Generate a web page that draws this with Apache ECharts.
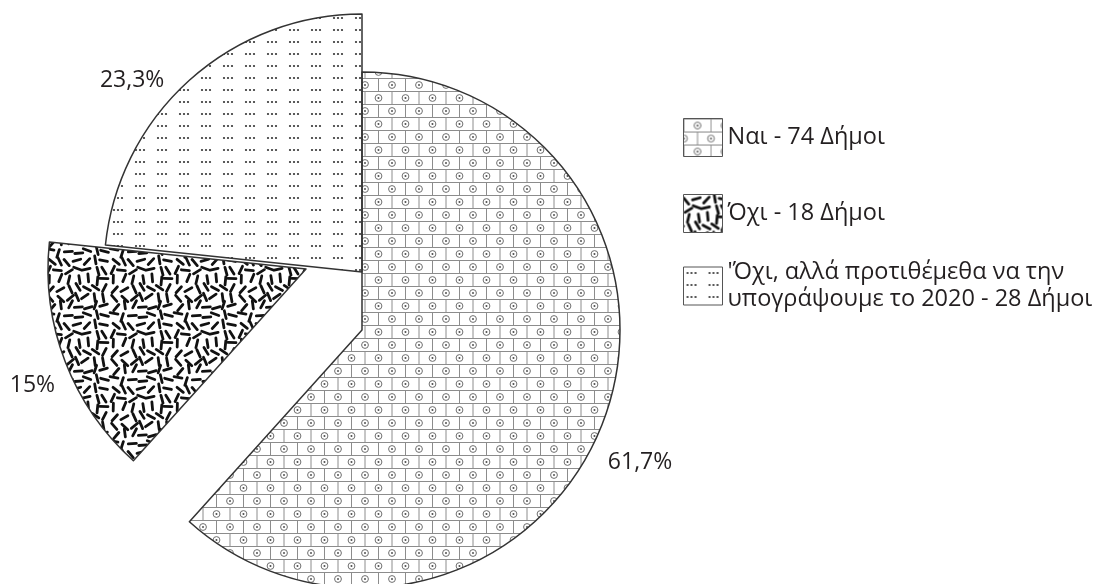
<!DOCTYPE html>
<html>
<head>
<meta charset="utf-8">
<title>Δήμοι</title>
<script src="https://cdn.jsdelivr.net/npm/echarts@6/dist/echarts.min.js"></script>
<style>
  html, body { margin: 0; padding: 0; background: #fff; }
  #chart { width: 1096px; height: 584px; }
</style>
</head>
<body>
<div id="chart"></div>
<script>
  // answers and number of municipalities
  const categories = ['Ναι', 'Όχι', "'Όχι, αλλά προτιθέμεθα να την\nυπογράψουμε το 2020"]
  const municipalities = [74, 18, 28]

  const textColor = '#231f20'
  const fontFamily = 'Open Sans'

  function makeTile(w, h, draw) {
    const c = document.createElement('canvas')
    c.width = w
    c.height = h
    const ctx = c.getContext('2d')
    draw(ctx, w, h)
    return c
  }

  // grid of bricks with a small circled dot
  const brickTile = makeTile(27, 26, function(ctx, w, h) {
    ctx.strokeStyle = '#8c8c8c'
    ctx.lineWidth = 1
    ctx.beginPath()
    ctx.moveTo(0, 0.5); ctx.lineTo(w, 0.5)
    ctx.moveTo(0, 13.5); ctx.lineTo(w, 13.5)
    ctx.moveTo(0.5, 0); ctx.lineTo(0.5, 13)
    ctx.moveTo(14, 13); ctx.lineTo(14, h)
    ctx.stroke()
    const dots = [[14, 7], [0.5, 20], [27.5, 20]]
    ctx.strokeStyle = '#6e6e6e'
    ctx.fillStyle = '#555'
    dots.forEach(function(d) {
      ctx.beginPath()
      ctx.arc(d[0], d[1], 3.4, 0, Math.PI * 2)
      ctx.stroke()
      ctx.beginPath()
      ctx.arc(d[0], d[1], 1, 0, Math.PI * 2)
      ctx.fill()
    })
  })

  // short black dashes scattered in all directions
  const dashTile = makeTile(64, 64, function(ctx, w, h) {
    let seed = 4242
    const rnd = function() {
      seed = (seed * 16807) % 2147483647
      return seed / 2147483647
    }
    ctx.strokeStyle = '#111'
    ctx.lineWidth = 2.8
    ctx.lineCap = 'round'
    const n = 7
    const step = w / n
    for (let i = 0; i < n; i++) {
      for (let j = 0; j < n; j++) {
        const x = i * step + step / 2 + (rnd() - 0.5) * step * 0.45
        const y = j * step + step / 2 + (rnd() - 0.5) * step * 0.45
        const a = rnd() * Math.PI
        const dx = Math.cos(a) * 4
        const dy = Math.sin(a) * 4
        for (let ox = -w; ox <= w; ox += w) {
          for (let oy = -h; oy <= h; oy += h) {
            ctx.beginPath()
            ctx.moveTo(x - dx + ox, y - dy + oy)
            ctx.lineTo(x + dx + ox, y + dy + oy)
            ctx.stroke()
          }
        }
      }
    }
  })

  // rows of little three-dot groups
  const dotTile = makeTile(22, 12, function(ctx) {
    ctx.fillStyle = '#333'
    ;[4, 8, 12].forEach(function(x) {
      ctx.beginPath()
      ctx.arc(x, 6, 1.1, 0, Math.PI * 2)
      ctx.fill()
    })
  })

  const fills = [
    { image: brickTile, repeat: 'repeat' },
    { image: dashTile, repeat: 'repeat' },
    { image: dotTile, repeat: 'repeat' }
  ]

  const hiddenStyle = { color: 'rgba(0,0,0,0)', borderWidth: 0 }

  // one pie per slice so each slice can sit on its own centre
  function slicePie(index, center, shift) {
    return {
      type: 'pie',
      radius: 258,
      center: center,
      startAngle: 90,
      clockwise: true,
      avoidLabelOverlap: false,
      percentPrecision: 1,
      silent: true,
      labelLayout: shift,
      data: categories.map(function(name, i) {
        if (i !== index) {
          return { name: name, value: municipalities[i], itemStyle: hiddenStyle, label: { show: false }, labelLine: { show: false } }
        }
        return {
          name: name,
          value: municipalities[i],
          itemStyle: { color: fills[i], borderColor: '#333', borderWidth: 1.5 },
          label: {
            show: true,
            position: 'outside',
            formatter: function(p) {
              return String(p.percent).replace('.', ',') + '%'
            },
            fontFamily: fontFamily,
            fontSize: 23,
            color: textColor
          },
          labelLine: { show: false, length: 0, length2: 0 }
        }
      })
    }
  }

  const legendText = {
    fontFamily: fontFamily,
    fontSize: 23.5,
    color: textColor,
    lineHeight: 27
  }

  function legendItem(i) {
    return {
      name: categories[i],
      icon: 'rect',
      itemStyle: { color: fills[i], borderColor: '#555', borderWidth: 1 }
    }
  }

  function legendLabel(name) {
    const i = categories.indexOf(name)
    return name + ' - ' + municipalities[i] + ' Δήμοι'
  }

  const chart = echarts.init(document.getElementById('chart'))
  chart.setOption({
    animation: false,
    backgroundColor: '#fff',
    legend: [
      {
        orient: 'vertical',
        left: 683,
        top: 118,
        padding: 0,
        itemGap: 37,
        itemWidth: 39,
        itemHeight: 38,
        selectedMode: false,
        textStyle: legendText,
        formatter: legendLabel,
        data: [legendItem(0), legendItem(1)]
      },
      {
        orient: 'vertical',
        left: 683,
        top: 259,
        padding: 0,
        itemWidth: 39,
        itemHeight: 38,
        selectedMode: false,
        textStyle: legendText,
        formatter: legendLabel,
        data: [legendItem(2)]
      }
    ],
    series: [
      slicePie(0, [362, 330], { dx: 0, dy: 40 }),
      slicePie(1, [306, 269], { dx: -5, dy: 24 }),
      slicePie(2, [362, 272], { dx: -20, dy: 0 })
    ]
  })
</script>
</body>
</html>
